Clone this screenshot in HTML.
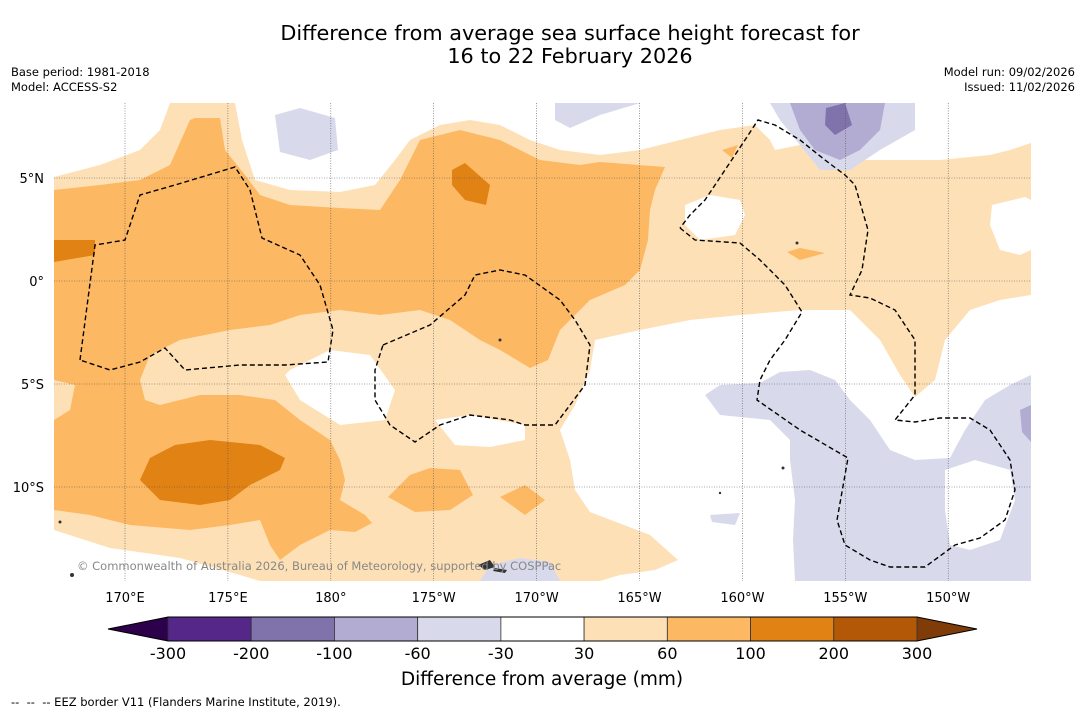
<!DOCTYPE html>
<html><head><meta charset="utf-8">
<style>
body{margin:0;background:#fff;width:1085px;height:713px;overflow:hidden;font-family:"DejaVu Sans","Liberation Sans",sans-serif;}
.t{position:absolute;color:#000;white-space:nowrap}
</style></head>
<body>
<div class="t" style="left:0;width:1140px;top:22px;text-align:center;font-size:20.8px;line-height:23px">Difference from average sea surface height forecast for<br>16 to 22 February 2026</div>
<div class="t" style="left:11px;top:65px;font-size:11.5px;line-height:15px">Base period: 1981-2018<br>Model: ACCESS-S2</div>
<div class="t" style="right:10px;top:65px;font-size:11.5px;line-height:15px;text-align:right">Model run: 09/02/2026<br>Issued: 11/02/2026</div>
<svg id="map" width="1085" height="713" style="position:absolute;left:0;top:0">
<defs><clipPath id="cp"><rect x="54" y="103" width="977" height="478"/></clipPath></defs>
<g clip-path="url(#cp)">
<rect x="54" y="103" width="977" height="478" fill="#fff"/>
<path fill="#fee0b6" fill-rule="evenodd" d="M54,177 L100,165 140,150 160,130 170,103 235,103 242,140 255,180 290,190 340,192 375,185 395,160 410,140 440,125 470,120 500,125 530,140 560,150 600,155 640,150 680,140 720,130 755,125 770,140 775,150 800,145 830,150 850,160 880,160 940,160 990,155 1010,150 1031,143 1031,295 1000,300 970,310 945,340 935,380 915,397 900,375 880,340 850,310 800,310 740,315 690,320 640,330 595,340 590,370 575,405 560,430 570,460 575,490 590,512 650,535 678,560 655,570 620,575 600,581 260,581 240,575 180,558 110,548 54,530Z M290,370 L330,350 370,355 395,390 385,420 340,425 300,400 285,375Z M435,420 L470,415 525,425 525,440 490,447 455,445Z M685,205 L710,195 740,200 745,215 735,235 700,240 685,225Z M992,205 L1025,197 1031,200 1031,250 1020,255 1000,250 990,225Z"/>
<path fill="#fdb863" d="M54,190 L100,185 140,180 170,165 190,120 195,118 220,118 225,150 245,175 260,195 290,205 340,208 380,210 400,180 420,140 460,130 500,140 540,160 580,165 600,162 665,167 655,190 650,210 648,240 640,270 625,285 590,300 560,330 548,360 530,368 500,350 480,340 450,320 420,310 380,315 340,310 300,315 270,325 230,330 180,340 150,355 140,380 145,400 160,405 200,395 240,395 275,400 300,420 330,440 340,460 345,480 340,500 365,515 372,523 355,532 330,530 300,545 280,560 270,545 260,520 230,525 190,530 130,525 90,515 54,510 54,420 70,410 75,385 54,380Z M388,497 L410,475 430,468 460,470 473,495 450,510 415,512Z M500,497 L525,485 545,500 525,515Z M787,252 L800,248 825,253 800,260Z M722,150 L738,145 732,158Z"/>
<path fill="#e08214" d="M54,240 L95,240 95,255 54,262Z M452,170 L465,163 490,185 486,205 465,200 452,185Z M140,480 L150,458 175,445 210,440 260,445 285,458 280,470 250,485 230,500 200,505 160,500Z"/>
<path fill="#d8daeb" fill-rule="evenodd" d="M275,115 L300,108 335,118 338,150 310,160 280,152Z M555,103 L640,103 600,115 570,128 555,120Z M770,103 L915,103 915,130 880,150 850,170 820,170 800,145 780,120Z M705,395 L720,385 760,383 780,372 810,370 835,380 850,400 870,420 890,450 915,460 950,458 965,430 985,400 1010,385 1031,375 1031,581 795,581 793,540 795,500 790,460 790,440 770,420 720,415Z M945,470 L975,460 1010,470 1015,500 1000,540 970,550 950,545 945,510Z M710,515 L740,513 735,525 712,522Z M480,581 L490,565 520,558 550,562 560,581Z"/>
<path fill="#b2abd2" d="M790,103 L885,103 880,130 860,150 840,160 815,150 800,130Z M1020,410 L1031,405 1031,442 1022,432Z"/>
<path fill="#8073ac" d="M826,108 L845,103 852,125 835,135 825,125Z"/>
<g fill="#333">
<path d="M478,565 L490,560 495,567 485,570Z M495,568 L507,570 505,573 493,571Z"/><circle cx="72" cy="575" r="2"/><circle cx="60" cy="522" r="1.5"/><circle cx="783" cy="468" r="1.5"/><circle cx="720" cy="493" r="1.2"/><circle cx="797" cy="243" r="1.5"/><circle cx="500" cy="340" r="1.5"/>
</g>
<g id="grid" stroke="#555" stroke-width="0.6" stroke-dasharray="1,1.5" fill="none"></g>
<g fill="none" stroke="#000" stroke-width="1.4" stroke-dasharray="5,3">
<path d="M80,360 L95,245 125,240 140,195 175,185 235,167 250,190 262,238 300,255 320,285 333,330 328,362 285,365 240,365 185,370 165,348 140,362 110,370 80,360"/>
<path d="M383,345 L430,325 465,295 475,275 500,270 525,275 560,300 575,320 590,345 585,385 555,425 525,425 510,420 470,415 440,425 415,442 390,425 375,400 375,370 383,345"/>
<path d="M680,228 L695,240 740,243 760,260 785,285 802,312 785,340 770,360 760,380 757,400 800,430 848,458 837,520 845,545 870,560 890,567 925,567 955,545 980,538 1005,520 1015,490 1010,460 990,430 970,418 940,418 915,422 895,420 915,395 915,340 895,310 870,298 850,295 862,270 868,230 855,185 845,175 825,160 800,140 775,125 758,120 745,140 725,170 705,200 690,215 680,228"/>
</g>
</g>
<text x="77" y="570" font-size="11.5" fill="#888" font-family="DejaVu Sans, sans-serif">© Commonwealth of Australia 2026, Bureau of Meteorology, supported by COSPPac</text>
<g id="axes" font-size="13" font-family="DejaVu Sans, sans-serif"></g>
<g id="cbar"></g>
<text x="542" y="685" text-anchor="middle" font-size="18.5" font-family="DejaVu Sans, sans-serif">Difference from average (mm)</text>
<text x="11" y="706" font-size="11.5" font-family="DejaVu Sans, sans-serif">-- &#160;-- &#160;-- EEZ border V11 (Flanders Marine Institute, 2019).</text>
</svg>
<script>
const lonLabels=["170°E","175°E","180°","175°W","170°W","165°W","160°W","155°W","150°W"];
const lonValues=[170,175,180,185,190,195,200,205,210];
const latLabels=["5°N","0°","5°S","10°S"];
const latValues=[5,0,-5,-10];
const levels=[-300,-200,-100,-60,-30,30,60,100,200,300];
const colors=["#542788","#8073ac","#b2abd2","#d8daeb","#ffffff","#fee0b6","#fdb863","#e08214","#b35806"];
const NS="http://www.w3.org/2000/svg";
const xLon=l=>125+(l-170)*20.58;
const yLat=v=>281-v*20.6;
const grid=document.getElementById('grid'),axes=document.getElementById('axes'),cb=document.getElementById('cbar');
function mk(tag,attrs,parent){const e=document.createElementNS(NS,tag);for(const k in attrs)e.setAttribute(k,attrs[k]);parent.appendChild(e);return e;}
lonValues.forEach((v,i)=>{const x=xLon(v);
const l=mk('line',{x1:x,x2:x,y1:103,y2:581},grid);


const t=mk('text',{x:x,y:602,'text-anchor':'middle'},axes);t.textContent=lonLabels[i];

});
latValues.forEach((v,i)=>{const y=yLat(v);
const l=mk('line',{x1:54,x2:1031,y1:y,y2:y},grid);


const t=mk('text',{x:44,y:y+5,'text-anchor':'end'},axes);t.textContent=latLabels[i];

});
const cx0=168,cx1=917,cy=617,ch=24,bw=(cx1-cx0)/colors.length;
const lt=mk('polygon',{points:`${cx0},${cy} ${cx0},${cy+ch} 108,${cy+ch/2}`,fill:'#2d004b'},cb);


const rt=mk('polygon',{points:`${cx1},${cy} ${cx1},${cy+ch} 977,${cy+ch/2}`,fill:'#7f3b08'},cb);


colors.forEach((c,i)=>{const r=mk('rect',{x:cx0+i*bw,y:cy,width:bw,height:ch,fill:c,stroke:'#333','stroke-width':0.8},cb);

});
mk('polygon',{points:`108,${cy+ch/2} ${cx0},${cy} ${cx1},${cy} 977,${cy+ch/2} ${cx1},${cy+ch} ${cx0},${cy+ch}`,fill:'none',stroke:'#000','stroke-width':1},cb);
levels.forEach((v,i)=>{const t=mk('text',{x:cx0+i*bw,y:659,'text-anchor':'middle','font-size':16,'font-family':'DejaVu Sans, sans-serif'},cb);t.textContent=v;

});
</script>
</body></html>
